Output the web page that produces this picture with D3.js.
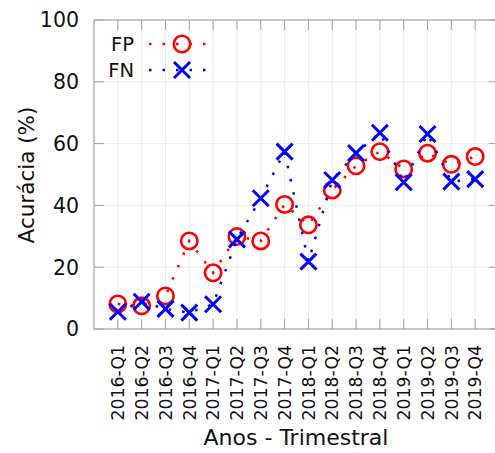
<!DOCTYPE html>
<html>
<head>
<meta charset="utf-8">
<script src="https://cdn.jsdelivr.net/npm/d3@7"></script>
<style>
  html, body { margin: 0; padding: 0; background: #fff; }
  svg { display: block; font-family: 'DejaVu Sans', sans-serif; }
</style>
</head>
<body>
<div id="chart"></div>
<script>
// quarters on the x axis
const quarters = [
  '2016-Q1', '2016-Q2', '2016-Q3', '2016-Q4',
  '2017-Q1', '2017-Q2', '2017-Q3', '2017-Q4',
  '2018-Q1', '2018-Q2', '2018-Q3', '2018-Q4',
  '2019-Q1', '2019-Q2', '2019-Q3', '2019-Q4'
];
// accuracy (%) per quarter
const fpValues = [8.1, 7.5, 10.7, 28.5, 18.2, 29.9, 28.5, 40.3, 33.7, 45.0, 52.8, 57.4, 51.8, 56.9, 53.3, 55.8];
const fnValues = [5.6, 8.8, 6.5, 5.3, 8.0, 29.0, 42.3, 57.4, 21.8, 48.2, 56.9, 63.5, 47.5, 63.1, 47.7, 48.5];
const yTicks = [0, 20, 40, 60, 80, 100];

const W = 495, H = 453;
const plot = { left: 94, right: 499, top: 20, bottom: 329 };
const TICK = 10;
const FRAME = '#a0a0a0';

const x = d3.scalePoint(quarters, [plot.left, plot.right]).padding(1);
const y = d3.scaleLinear([0, 100], [plot.bottom, plot.top]);

const svg = d3.select('#chart').append('svg')
  .attr('width', W).attr('height', H);

// grid
svg.append('g').selectAll('line').data(yTicks.slice(1, -1)).join('line')
  .attr('x1', plot.left).attr('x2', plot.right)
  .attr('y1', d => y(d)).attr('y2', d => y(d))
  .attr('stroke', '#eeeeee').attr('stroke-width', 1);
svg.append('g').selectAll('line').data(quarters).join('line')
  .attr('x1', d => x(d)).attr('x2', d => x(d))
  .attr('y1', plot.top).attr('y2', plot.bottom)
  .attr('stroke', '#eeeeee').attr('stroke-width', 1);

// inward ticks on all four sides
const ticks = svg.append('g').attr('stroke', FRAME).attr('stroke-width', 1);
yTicks.forEach(v => {
  ticks.append('line').attr('x1', plot.left).attr('x2', plot.left + TICK).attr('y1', y(v)).attr('y2', y(v));
  ticks.append('line').attr('x1', plot.right - TICK).attr('x2', plot.right).attr('y1', y(v)).attr('y2', y(v));
});
quarters.forEach(q => {
  ticks.append('line').attr('x1', x(q)).attr('x2', x(q)).attr('y1', plot.bottom).attr('y2', plot.bottom - TICK);
  ticks.append('line').attr('x1', x(q)).attr('x2', x(q)).attr('y1', plot.top).attr('y2', plot.top + TICK);
});

// frame
svg.append('rect')
  .attr('x', plot.left).attr('y', plot.top)
  .attr('width', plot.right - plot.left).attr('height', plot.bottom - plot.top)
  .attr('fill', 'none').attr('stroke', FRAME).attr('stroke-width', 1.2);

// y tick labels
svg.append('g').selectAll('text').data(yTicks).join('text')
  .attr('x', plot.left - 15).attr('y', d => y(d)).attr('dy', '0.36em')
  .attr('text-anchor', 'end').attr('font-size', 20.5).attr('fill', '#111')
  .text(d => d);

// x tick labels, rotated
svg.append('g').selectAll('text').data(quarters).join('text')
  .attr('transform', d => `translate(${x(d)},${plot.bottom + 16}) rotate(-90)`)
  .attr('dy', '0.36em').attr('text-anchor', 'end')
  .attr('font-size', 17.3).attr('fill', '#111')
  .text(d => d);

// axis titles
svg.append('text')
  .attr('x', 296).attr('y', 445)
  .attr('text-anchor', 'middle').attr('font-size', 22).attr('fill', '#111')
  .text('Anos - Trimestral');
svg.append('text')
  .attr('transform', `translate(34,175) rotate(-90)`)
  .attr('text-anchor', 'middle').attr('font-size', 21.5).attr('fill', '#111')
  .text('Acurácia (%)');

const series = [
  { name: 'FP', values: fpValues, color: '#ff0000', marker: 'circle' },
  { name: 'FN', values: fnValues, color: '#0000ff', marker: 'cross' }
];

function drawMarker(g, type, cx, cy, color) {
  if (type === 'circle') {
    g.append('circle').attr('cx', cx).attr('cy', cy).attr('r', 8.2)
      .attr('fill', 'none').attr('stroke', color).attr('stroke-width', 2.6);
  } else {
    const s = 8;
    g.append('path')
      .attr('d', `M${cx - s},${cy - s}L${cx + s},${cy + s}M${cx - s},${cy + s}L${cx + s},${cy - s}`)
      .attr('stroke', color).attr('stroke-width', 3).attr('fill', 'none');
  }
}

const line = d3.line().x((d, i) => x(quarters[i])).y(d => y(d));

series.forEach((s, k) => {
  const g = svg.append('g');
  g.append('path').attr('d', line(s.values))
    .attr('fill', 'none').attr('stroke', s.color)
    .attr('stroke-width', 2.5).attr('stroke-dasharray', '2.5,11');
  s.values.forEach((v, i) => drawMarker(g, s.marker, x(quarters[i]), y(v), s.color));

  // legend entry
  const ly = 44 + k * 26;
  svg.append('text')
    .attr('x', 134).attr('y', ly).attr('dy', '0.36em')
    .attr('text-anchor', 'end').attr('font-size', 19.5).attr('fill', '#111')
    .text(s.name);
  svg.append('line')
    .attr('x1', 149).attr('x2', 206).attr('y1', ly).attr('y2', ly)
    .attr('stroke', s.color).attr('stroke-width', 2.5).attr('stroke-dasharray', '2.5,11');
  drawMarker(svg, s.marker, 182, ly, s.color);
});
</script>
</body>
</html>
